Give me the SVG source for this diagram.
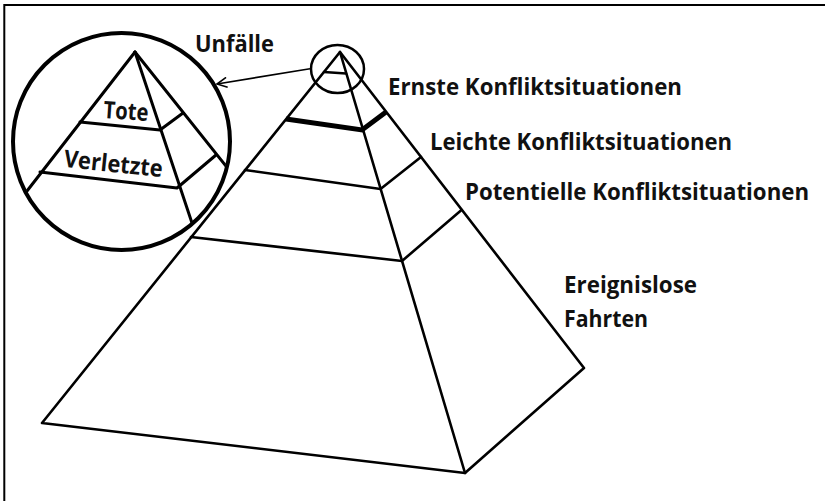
<svg xmlns="http://www.w3.org/2000/svg" width="825" height="501" viewBox="0 0 825 501">
  <style>
    .ln { fill: none; stroke: #000; stroke-width: 2.6; stroke-linejoin: round; stroke-linecap: round; }
    .sm { fill: none; stroke: #000; stroke-width: 3; stroke-linejoin: round; stroke-linecap: round; }
    .lbl { font-family: "Open Sans", "Liberation Sans", Arial, sans-serif; font-weight: bold; font-size: 23px; fill: #111; }
  </style>
  <defs>
    <marker id="arr" viewBox="0 0 12 12" refX="11" refY="6" markerWidth="12" markerHeight="12" markerUnits="userSpaceOnUse" orient="auto">
      <path d="M1,1 L11,6 L1,11" fill="none" stroke="#000" stroke-width="1.6" stroke-linejoin="miter"/>
    </marker>
    <clipPath id="zoomclip">
      <circle cx="121.5" cy="141.5" r="107"/>
    </clipPath>
  </defs>
  <rect x="0" y="0" width="825" height="501" fill="#fff"/>
  <rect id="frame" x="4.3" y="5" width="900" height="600" fill="none" stroke="#000" stroke-width="2"/>

  <g id="pyramid">
    <path class="ln" d="M340,52 L42,423 L465,473 L584,368 Z"/>
    <path class="ln" d="M340,52 L465,473"/>
    <path class="ln" d="M324,72 L346,73.5"/>
  </g>
  <g id="layer-ernste">
    <path d="M286,119 L362,130 L386,112" fill="none" stroke="#000" stroke-width="5" stroke-linejoin="miter"/>
  </g>
  <g id="layer-leichte">
    <path class="ln" d="M245,170 L380.5,189 L421,157"/>
  </g>
  <g id="layer-potentielle">
    <path class="ln" d="M191,237 L402,261 L461.5,210"/>
  </g>
  <g id="apex-highlight">
    <ellipse cx="337.5" cy="69" rx="26.5" ry="24" fill="none" stroke="#000" stroke-width="2.5"/>
  </g>

  <g id="zoom-circle">
    <g clip-path="url(#zoomclip)">
      <path class="sm" d="M135,52 L20,200"/>
      <path class="sm" d="M135,52 L205,262"/>
      <path class="sm" d="M135,52 L245,190"/>
      <path class="sm" d="M80,122 L160,130 L183,113"/>
      <path class="sm" d="M40,172 L177,188 L216,155"/>
    </g>
    <circle cx="121.5" cy="141.5" r="108.5" fill="none" stroke="#000" stroke-width="4"/>
    <text class="lbl" x="125.5" y="119.5" text-anchor="middle" textLength="45" lengthAdjust="spacingAndGlyphs" transform="rotate(4 125.5 119.5)" style="font-size:24px">Tote</text>
    <text class="lbl" x="112.5" y="172" text-anchor="middle" textLength="99" lengthAdjust="spacingAndGlyphs" transform="rotate(6 112.5 172)" style="font-size:24px">Verletzte</text>
  </g>

  <g id="connectors">
    <line x1="310" y1="68.7" x2="217" y2="84" stroke="#000" stroke-width="1.6" marker-end="url(#arr)"/>
  </g>

  <g id="labels">
    <text class="lbl" x="195" y="52" textLength="79" lengthAdjust="spacingAndGlyphs">Unfälle</text>
    <text class="lbl" x="388" y="95" textLength="294" lengthAdjust="spacingAndGlyphs">Ernste Konfliktsituationen</text>
    <text class="lbl" x="430" y="150" textLength="302" lengthAdjust="spacingAndGlyphs">Leichte Konfliktsituationen</text>
    <text class="lbl" x="465" y="200" textLength="344" lengthAdjust="spacingAndGlyphs">Potentielle Konfliktsituationen</text>
    <text class="lbl" x="564" y="293" textLength="133" lengthAdjust="spacingAndGlyphs">Ereignislose</text>
    <text class="lbl" x="564" y="327" textLength="84" lengthAdjust="spacingAndGlyphs">Fahrten</text>
  </g>
</svg>
